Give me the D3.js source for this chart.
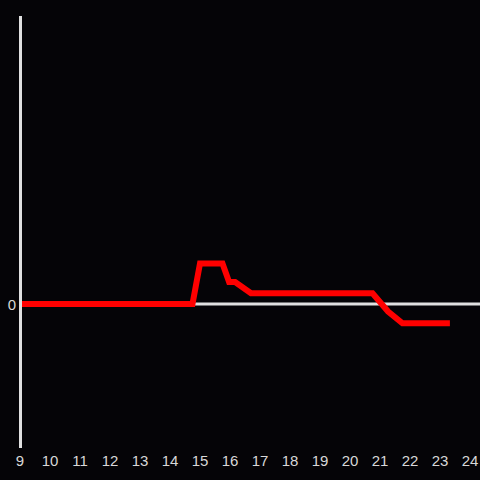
<!DOCTYPE html>
<html><head><meta charset="utf-8">
<script src="https://cdn.jsdelivr.net/npm/d3@7"></script>
<style>html,body{margin:0;padding:0;background:#050407;}svg{display:block;}</style>
</head><body>
<div id="chart"></div>
<script>
const hours = [9, 14.75, 15, 15.75, 15.97, 16.17, 16.7, 20.75, 21.27, 21.75, 23.33];
const values = [0, 0, 4.05, 4.05, 2.2, 2.2, 1.07, 1.07, -0.75, -1.93, -1.93];
const xTicks = [9,10,11,12,13,14,15,16,17,18,19,20,21,22,23,24];
const yTicks = [0];

const W = 480, H = 480;
const svg = d3.select("#chart").append("svg").attr("width", W).attr("height", H)
  .style("background", "#050407");

const x = d3.scaleLinear().domain([9, 24]).range([20, 470]);
const y = d3.scaleLinear().domain([-14.4, 28.8]).range([448, 16]);

// zero line
svg.append("line").attr("x1", x(9)).attr("x2", 480).attr("y1", y(0)).attr("y2", y(0))
  .attr("stroke", "#e0e0e0").attr("stroke-width", 3);

const line = d3.line().x((d, i) => x(hours[i])).y(d => y(d));
svg.append("path").attr("d", line(values)).attr("fill", "none")
  .attr("stroke", "#ff0000").attr("stroke-width", 6).attr("stroke-linejoin", "miter");

// y axis line
svg.append("line").attr("x1", 20.5).attr("x2", 20.5).attr("y1", 16).attr("y2", 448)
  .attr("stroke", "#e0e0e0").attr("stroke-width", 3);

svg.selectAll("text.xt").data(xTicks).enter().append("text").attr("class", "xt")
  .attr("x", d => x(d)).attr("y", 466).attr("text-anchor", "middle")
  .attr("font-family", "Liberation Sans, Arial, sans-serif").attr("font-size", 15)
  .attr("fill", "#d8d8d8").text(d => d);

svg.selectAll("text.yt").data(yTicks).enter().append("text").attr("class", "yt")
  .attr("x", 16).attr("y", y(0) + 6).attr("text-anchor", "end")
  .attr("font-family", "Liberation Sans, Arial, sans-serif").attr("font-size", 15)
  .attr("fill", "#d8d8d8").text(d => d);
</script>
</body></html>
